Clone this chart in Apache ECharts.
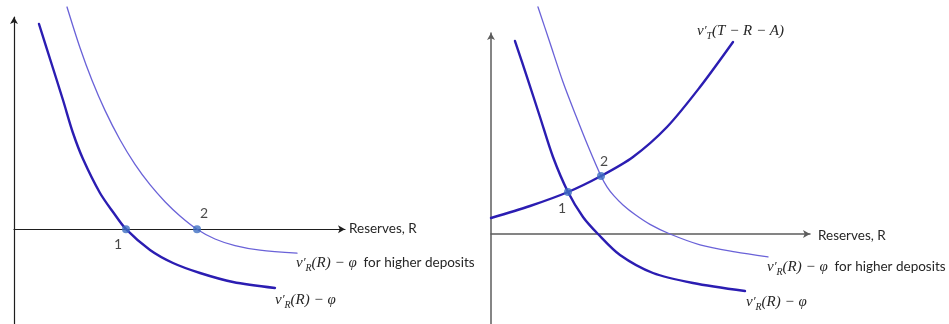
<!DOCTYPE html>
<html>
<head>
<meta charset="utf-8">
<script src="https://cdn.jsdelivr.net/npm/echarts@6/dist/echarts.min.js"></script>
<style>
  html, body { margin: 0; padding: 0; background: #fff; }
  #chart { width: 949px; height: 324px; }
</style>
</head>
<body>
<div id="chart"></div>
<script>
// Left diagram: marginal value of reserves net of the rate, before and after a rise in deposits
const leftBaseCurve = [
  [0.755, 6.817], [1.118, 5.555], [1.480, 4.292], [1.782, 3.196], [2.085, 2.332],
  [2.598, 1.203], [2.991, 0.571], [3.384, 0.000], [4.109, -0.691], [4.804, -1.123],
  [5.619, -1.455], [6.616, -1.754], [7.885, -1.953]
];
const leftHighDepositCurve = [
  [1.601, 7.382], [1.994, 6.027], [2.356, 4.947], [2.749, 3.947], [3.202, 2.970],
  [3.656, 2.153], [4.109, 1.478], [4.562, 0.914], [5.015, 0.442], [5.529, 0.000],
  [6.073, -0.326], [6.677, -0.545], [7.432, -0.698], [8.550, -0.797]
];
const leftEquilibria = [[3.384, 0.000], [5.529, 0.000]];

// Right diagram: the same curves against the rising marginal value of the other use
const rightBaseCurve = [
  [0.752, 6.433], [1.129, 5.233], [1.536, 3.900], [1.944, 2.567], [2.414, 1.400],
  [2.884, 0.567], [3.354, 0.000], [4.044, -0.700], [5.078, -1.300], [6.332, -1.633],
  [7.962, -1.900]
];
const rightHighDepositCurve = [
  [1.473, 7.567], [1.850, 6.367], [2.257, 5.067], [2.665, 3.933], [3.041, 2.933],
  [3.448, 1.933], [3.636, 1.573], [3.856, 1.270], [4.138, 0.970], [4.514, 0.650],
  [4.984, 0.323], [5.611, 0.000], [6.552, -0.360], [7.649, -0.593], [8.683, -0.760]
];
const tradeCurve = [
  [0.000, 0.533], [1.223, 0.933], [2.414, 1.400], [3.448, 1.933], [4.451, 2.567],
  [5.517, 3.567], [6.552, 4.900], [7.586, 6.400]
];
const rightEquilibria = [[2.414, 1.400], [3.448, 1.933]];

const pointNames = ['1', '2'];
const axisTitle = 'Reserves, R';
const higherDepositsText = 'for higher deposits';

const THICK = '#2b1db2';
const THIN = '#6a62d8';
const DOT = '#3f6fc2';
const SANS = 'Lato';

const chart = echarts.init(document.getElementById('chart'), null, { renderer: 'canvas' });

function axisPair(gridIndex, yMin, yMax, color, width) {
  const line = { show: true, lineStyle: { color: color, width: width } };
  return {
    x: {
      type: 'value', gridIndex: gridIndex, min: 0, max: 10,
      axisLine: Object.assign({ onZero: true, symbol: ['none', 'arrow'], symbolSize: [6, 7] }, line),
      axisTick: { show: false }, axisLabel: { show: false }, splitLine: { show: false }
    },
    y: {
      type: 'value', gridIndex: gridIndex, min: yMin, max: yMax,
      axisLine: Object.assign({ onZero: true, symbol: ['none', 'arrow'], symbolSize: [6, 7] }, line),
      axisTick: { show: false }, axisLabel: { show: false }, splitLine: { show: false }
    }
  };
}

const leftAxes = axisPair(0, -3.15, 7.05, '#1e1e1e', 1.2);
const rightAxes = axisPair(1, -3.0, 6.7, '#5c5c5c', 1.5);

function curve(data, axisIdx, color, width) {
  return {
    type: 'line', data: data, xAxisIndex: axisIdx, yAxisIndex: axisIdx,
    showSymbol: false, smooth: 0.3, clip: false, silent: true,
    lineStyle: { color: color, width: width, cap: 'round' }
  };
}

function dots(data, axisIdx, offsets) {
  return {
    type: 'scatter', xAxisIndex: axisIdx, yAxisIndex: axisIdx, clip: false, silent: true,
    symbolSize: 8, z: 5,
    itemStyle: { color: DOT },
    data: data.map((p, i) => ({
      value: p, name: pointNames[i],
      label: {
        show: true, formatter: '{b}', offset: offsets[i], position: 'inside',
        fontFamily: SANS, fontSize: 14, color: '#1a1a1a'
      }
    }))
  };
}

const mathRich = {
  m: { fontFamily: 'Liberation Serif', fontStyle: 'italic', fontSize: 15, lineHeight: 20, color: '#262626' },
  pr: { fontFamily: 'Liberation Serif', fontStyle: 'italic', fontSize: 13, lineHeight: 20, color: '#262626' },
  s: { fontFamily: 'Liberation Serif', fontStyle: 'italic', fontSize: 10, lineHeight: 10, color: '#262626', verticalAlign: 'bottom' },
  t: { fontFamily: SANS, fontSize: 13.5, lineHeight: 20, color: '#262626' }
};

function marginalLabel(sub, arg, tail) {
  return '{m|v}{pr|′}{s|' + sub + '}{m|' + arg + '}' + (tail ? '{t|' + tail + '}' : '');
}

function textAt(x, y, text) {
  return {
    type: 'text', x: x, y: y, silent: true,
    style: { text: text, rich: mathRich, align: 'left', verticalAlign: 'middle', fill: '#262626' }
  };
}

function plainAt(x, y, text) {
  return {
    type: 'text', x: x, y: y, silent: true,
    style: { text: text, fontFamily: SANS, fontSize: 13.5, fill: '#262626', align: 'left', verticalAlign: 'middle' }
  };
}

chart.setOption({
  animation: false,
  backgroundColor: '#ffffff',
  grid: [
    { left: 14, top: 17, width: 331, height: 307 },
    { left: 491, top: 33, width: 319, height: 291 }
  ],
  xAxis: [leftAxes.x, rightAxes.x],
  yAxis: [leftAxes.y, rightAxes.y],
  series: [
    curve(leftHighDepositCurve, 0, THIN, 1.3),
    curve(leftBaseCurve, 0, THICK, 2.4),
    dots(leftEquilibria, 0, [[-8, 15], [7, -16]]),
    curve(rightHighDepositCurve, 1, THIN, 1.3),
    curve(rightBaseCurve, 1, THICK, 2.4),
    curve(tradeCurve, 1, THICK, 2.4),
    dots(rightEquilibria, 1, [[-6, 16], [3, -15]])
  ],
  graphic: [
    plainAt(349, 229, axisTitle),
    textAt(296, 263, marginalLabel('R', '(R) − φ', '  ' + higherDepositsText)),
    textAt(275, 300, marginalLabel('R', '(R) − φ')),
    plainAt(818, 236, axisTitle),
    textAt(767, 267, marginalLabel('R', '(R) − φ', '  ' + higherDepositsText)),
    textAt(746, 302, marginalLabel('R', '(R) − φ')),
    textAt(697, 31, marginalLabel('T', '(T − R − A)'))
  ]
});
</script>
</body>
</html>
